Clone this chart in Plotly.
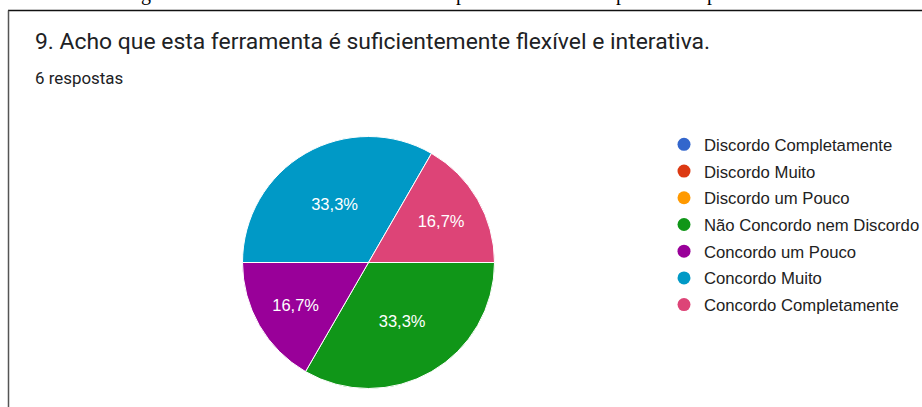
import plotly.graph_objects as go

W, H = 922, 407

categories = [
    "Discordo Completamente",
    "Discordo Muito",
    "Discordo um Pouco",
    "Não Concordo nem Discordo",
    "Concordo um Pouco",
    "Concordo Muito",
    "Concordo Completamente",
]
values = [0, 0, 0, 2, 1, 2, 1]
colors = ["#3366cc", "#dc3912", "#ff9900", "#109618", "#990099", "#0099c6", "#dd4477"]

title_text = "9. Acho que esta ferramenta é suficientemente flexível e interativa."
subtitle_text = "6 respostas"
caption_fragments = [("g", 146), ("p", 461), ("p", 621), ("p", 712)]


def px(x):
    return x / W


def py(y):
    return 1 - y / H


fig = go.Figure()

cx, cy, r = 368.5, 262.5, 126
fig.add_trace(go.Pie(
    labels=categories,
    values=values,
    marker=dict(colors=colors, line=dict(color="white", width=1)),
    sort=False,
    direction="clockwise",
    rotation=90,
    showlegend=False,
    texttemplate="%{percent:.1%}",
    textposition="inside",
    insidetextorientation="horizontal",
    textfont=dict(family="Liberation Sans, Arial", size=16.5, color="white"),
    domain=dict(x=[px(cx - r), px(cx + r)], y=[py(cy + r), py(cy - r)]),
    hoverinfo="label+percent",
))

for name, col in zip(categories, colors):
    fig.add_trace(go.Scatter(
        x=[None], y=[None], mode="markers", name=name, legendgroup=name,
        marker=dict(color=col, size=13, symbol="circle"),
    ))

annotations = [
    dict(text=title_text, x=px(33), y=py(42), xref="paper", yref="paper",
         xanchor="left", yanchor="middle", showarrow=False,
         font=dict(family="Roboto", size=22.9, color="#202124")),
    dict(text=subtitle_text, x=px(33), y=py(78), xref="paper", yref="paper",
         xanchor="left", yanchor="middle", showarrow=False,
         font=dict(family="Roboto", size=16.9, color="#202124")),
]
for ch, xx in caption_fragments:
    annotations.append(dict(text=ch, x=px(xx), y=py(-6), xref="paper", yref="paper",
                            xanchor="center", yanchor="middle", showarrow=False,
                            font=dict(family="Liberation Serif", size=20, color="black")))

shapes = [
    dict(type="line", xref="paper", yref="paper", x0=px(8), x1=1.01, y0=py(10.5), y1=py(10.5),
         line=dict(color="#111111", width=1.5)),
    dict(type="line", xref="paper", yref="paper", x0=px(8.5), x1=px(8.5), y0=py(10.5), y1=-0.05,
         line=dict(color="#555555", width=1.5)),
]

fig.update_layout(
    width=W, height=H,
    margin=dict(l=0, r=0, t=0, b=0, autoexpand=False),
    paper_bgcolor="white", plot_bgcolor="white",
    separators=",.",
    xaxis=dict(visible=False), yaxis=dict(visible=False),
    showlegend=True,
    legend=dict(
        x=px(664), y=py(127), xanchor="left", yanchor="top",
        font=dict(family="Liberation Sans, Arial", size=16.7, color="#222222"),
        tracegroupgap=2, bgcolor="rgba(0,0,0,0)",
    ),
    annotations=annotations,
    shapes=shapes,
)

fig.write_html("out.html")
